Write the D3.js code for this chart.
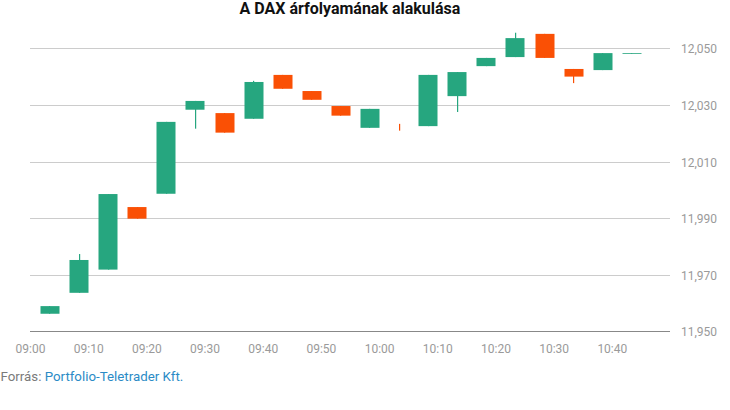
<!DOCTYPE html>
<html>
<head>
<meta charset="utf-8">
<script src="https://cdn.jsdelivr.net/npm/d3@7"></script>
<style>
  html, body { margin: 0; padding: 0; background: #fff; }
  svg { display: block; font-family: Roboto, "Noto Sans", sans-serif; }
</style>
</head>
<body>
<svg id="chart" width="730" height="410"></svg>
<script>
// ---- data ----
const times  = ["09:00","09:05","09:10","09:15","09:20","09:25","09:30","09:35","09:40","09:45",
                "09:50","09:55","10:00","10:05","10:10","10:15","10:20","10:25","10:30","10:35","10:40"];
const opens  = [11956.2,11963.6,11971.8,11993.9,11998.6,12028.3,12027.1,12025.1,12040.6,12034.9,
                12029.6,12021.9,12022.0,12022.5,12033.1,12043.7,12046.9,12055.1,12042.7,12042.3,12048.1];
const closes = [11958.9,11975.2,11998.5,11989.8,12024.0,12031.4,12020.2,12038.1,12035.7,12031.8,
                12026.2,12028.6,12022.0,12040.6,12041.6,12046.6,12053.6,12046.6,12040.0,12048.3,12048.3];
const highs  = [11958.9,11977.3,11998.5,11993.9,12024.0,12031.4,12027.1,12038.5,12040.6,12034.9,
                12029.6,12028.6,12023.3,12040.6,12041.6,12046.6,12055.5,12055.1,12042.7,12048.3,12048.3];
const lows   = [11956.2,11963.6,11971.8,11989.8,11998.6,12021.6,12020.2,12025.1,12035.7,12031.8,
                12026.2,12021.9,12020.9,12022.5,12027.5,12043.7,12046.9,12046.6,12037.7,12042.3,12048.1];
const yTicks = [11950, 11970, 11990, 12010, 12030, 12050];
const xTicks = ["09:00","09:10","09:20","09:30","09:40","09:50","10:00","10:10","10:20","10:30","10:40"];
const xDomain = ["09:00","10:50"];
const titleText = "A DAX árfolyamának alakulása";
const sourceLabel = "Forrás: ";
const sourceName = "Portfolio-Teletrader Kft.";

// ---- layout ----
const plot = { left: 30, right: 670, top: 48.3, bottom: 331.3 };
const candleOffsetMin = 3.35;
const candleWidth = 19;
const green = "#26a67f", red = "#fa5005";

const parse = d3.timeParse("%H:%M");
const fmt = d3.timeFormat("%H:%M");
const svg = d3.select("#chart");

const x = d3.scaleTime().domain(xDomain.map(parse)).range([plot.left, plot.right]);
const y = d3.scaleLinear().domain([yTicks[0], yTicks[yTicks.length - 1]]).range([plot.bottom, plot.top]);

// gridlines + y labels
const yAxis = d3.axisRight(y).tickValues(yTicks).tickSize(plot.right - plot.left)
  .tickFormat(d3.format(",")).tickPadding(11);
const gy = svg.append("g").attr("transform", `translate(${plot.left},0)`).call(yAxis);
gy.select(".domain").remove();
gy.selectAll(".tick line").attr("stroke", "#cccccc").attr("shape-rendering", "crispEdges");
gy.selectAll(".tick text").attr("fill", "#9a9a9a").attr("font-size", 12)
  .attr("font-family", "Roboto").attr("dy", "0.38em");

// x axis
const xAxis = d3.axisBottom(x).tickValues(xTicks.map(parse)).tickFormat(fmt).tickSize(0).tickPadding(13);
const gx = svg.append("g").attr("transform", `translate(0,${plot.bottom})`).call(xAxis);
gx.select(".domain").attr("stroke", "#888888").attr("d", `M${plot.left},0H${plot.right}`)
  .attr("shape-rendering", "crispEdges");
gx.selectAll(".tick text").attr("fill", "#9a9a9a").attr("font-size", 12).attr("font-family", "Roboto");

// candles
const data = times.map((t, i) => ({ t: parse(t), o: opens[i], c: closes[i], h: highs[i], l: lows[i] }));
const cx = d => x(new Date(d.t.getTime() + candleOffsetMin * 60000));
const col = d => d.c > d.o ? green : red;

const g = svg.append("g");
g.selectAll("rect.wick").data(data).join("rect").attr("class", "wick")
  .attr("x", d => Math.round(cx(d)))
  .attr("width", 1.2)
  .attr("y", d => y(d.h))
  .attr("height", d => y(d.l) - y(d.h))
  .attr("fill", col);
g.selectAll("rect.body").data(data.filter(d => d.o !== d.c)).join("rect").attr("class", "body")
  .attr("x", d => Math.round(cx(d) - candleWidth / 2) + 0.5)
  .attr("width", candleWidth)
  .attr("y", d => y(Math.max(d.o, d.c)))
  .attr("height", d => Math.max(Math.abs(y(d.o) - y(d.c)), 0.8))
  .attr("fill", col);

// title
svg.append("text").attr("x", (plot.left + plot.right) / 2).attr("y", 14)
  .attr("text-anchor", "middle").attr("font-size", 16).attr("font-weight", "bold")
  .attr("fill", "#111").attr("font-family", "Roboto").text(titleText);

// source
const src = svg.append("text").attr("x", 0.5).attr("y", 381).attr("font-size", 13.3).attr("font-family", "Roboto");
src.append("tspan").attr("fill", "#7a7a7a").text(sourceLabel);
src.append("tspan").attr("fill", "#2b8bc6").text(sourceName);
</script>
</body>
</html>
